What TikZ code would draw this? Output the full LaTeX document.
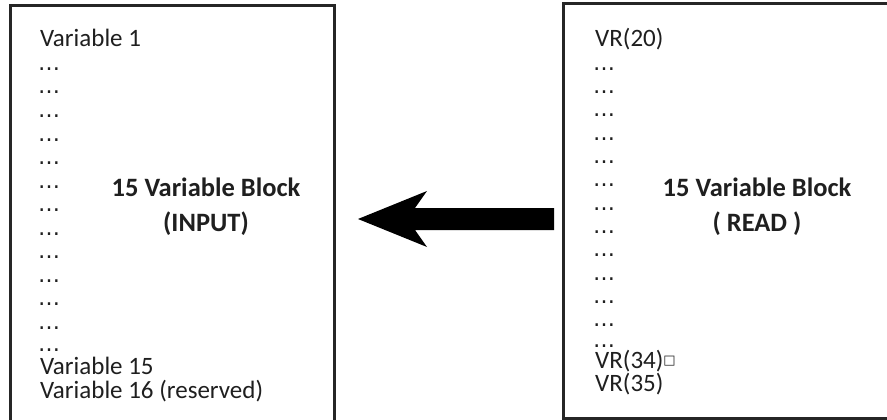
\documentclass[tikz,border=0pt]{standalone}
\usepackage{fontspec}
\setmainfont{Carlito}
\newfontfamily\symfont{DejaVu Sans}
\begin{document}
\begin{tikzpicture}[x=1pt,y=-1pt,
  frame/.style={draw=black!85,line width=3pt},
  entry/.style={anchor=base west,inner sep=0pt,font=\fontsize{25}{25}\selectfont,text=black!88},
  dots/.style={anchor=base west,inner sep=0pt,font=\symfont\fontsize{22}{22}\selectfont,text=black!88},
  title/.style={anchor=base,inner sep=0pt,font=\fontsize{26.5}{26.5}\selectfont\bfseries,text=black!88},
  bigarrow/.style={fill=black,draw=none}]
\useasboundingbox[fill=white] (0,0) rectangle (887,420);

% left block
\draw[frame] (10,6) rectangle (334,424);
\node[entry] (l0) at (40,47) {Variable 1};
\foreach \k in {1,...,12}{
  \node[dots] (ld\k) at (38,{47+23.5*\k}) {…};
}
\node[dots] (ld13) at (38,351) {…};
\node[entry] (l15) at (40,374) {Variable 15};
\node[entry] (l16) at (40,398) {Variable 16 (reserved)};
\node[title] (lt1) at (206,196) {15 Variable Block};
\node[title] (lt2) at (206,231) {(INPUT)};

% right block
\draw[frame] (563,4) rectangle (895,418);
\node[entry] (r0) at (595,47) {VR(20)};
\foreach \k in {1,...,12}{
  \node[dots] (rd\k) at (593,{47+23.3*\k}) {…};
}
\node[dots] (rd13) at (593,347) {…};
\node[entry] (r34) at (595,368) {VR(34)\raisebox{3.5pt}{\symfont\fontsize{13}{13}\selectfont □}};
\node[entry] (r35) at (595,391) {VR(35)};
\node[title] (rt1) at (757,196) {15 Variable Block};
\node[title] (rt2) at (757,231) {( READ )};

% transfer arrow
\coordinate (tip) at (358,219);
\fill[bigarrow] (tip) -- (427,191) -- (415,208) -- (554,208) -- (554,230)
  -- (415,230) -- (427,247) -- cycle;
\end{tikzpicture}
\end{document}
